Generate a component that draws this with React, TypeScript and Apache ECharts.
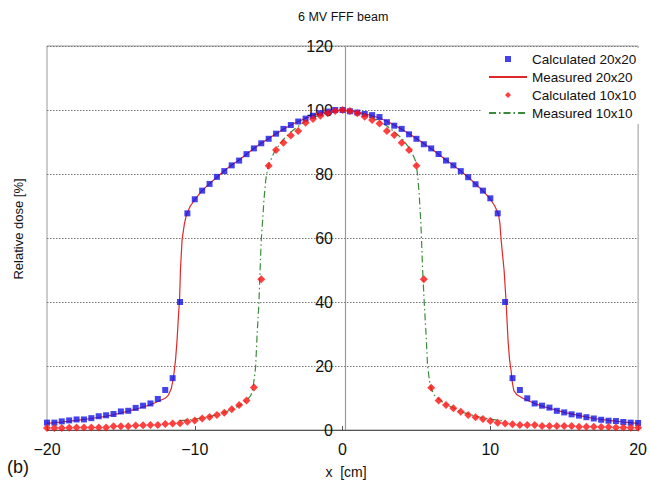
import React, { useEffect, useRef } from "react";
import * as echarts from "echarts";

const FONT = "'Liberation Sans', Arial, Helvetica, sans-serif";

const titleText = "6 MV FFF beam";
const xAxisTitle = "x  [cm]";
const yAxisTitle = "Relative dose [%]";
const panelLabel = "(b)";
const seriesNames = ["Calculated 20x20", "Measured 20x20", "Calculated 10x10", "Measured 10x10"];

// Calculated 20x20 (blue squares)
const calc20X = [
  -20, -19.5, -19, -18.5, -18, -17.5, -17, -16.5, -16, -15.5, -15, -14.5, -14, -13.5, -13, -12.5, -12, -11.5,
  -11, -10.5, -10, -9.5, -9, -8.5, -8, -7.5, -7, -6.5, -6, -5.5, -5, -4.5, -4, -3.5, -3, -2.5, -2, -1.5, -1, -0.5, 0,
  0.5, 1, 1.5, 2, 2.5, 3, 3.5, 4, 4.5, 5, 5.5, 6, 6.5, 7, 7.5, 8, 8.5, 9, 9.5, 10, 10.5, 11,
  11.5, 12, 12.5, 13, 13.5, 14, 14.5, 15, 15.5, 16, 16.5, 17, 17.5, 18, 18.5, 19, 19.5, 20,
];
const calc20Y = [
  2.3, 2.3, 2.7, 3.0, 3.3, 3.3, 3.7, 4.3, 4.6, 5.0, 5.8, 6.0, 6.9, 7.6, 8.3, 9.7, 12.5, 16.2,
  40, 67.7, 72.1, 74.8, 76.9, 79.1, 80.9, 82.7, 84.2, 86.2, 88.0, 89.6, 91.0, 92.6, 94.1, 95.3, 96.4, 97.3, 98.2, 99.0, 99.5, 100, 100,
  99.6, 99.2, 98.75, 98.4, 97.8, 96.2, 95.1, 94.1, 92.4, 91.0, 89.3, 88.0, 86.25, 84.2, 82.7, 80.9, 79.0, 76.8, 74.8, 72.4, 67.7, 40,
  16.2, 12.5, 9.9, 8.3, 7.6, 7.0, 6.0, 5.5, 4.9, 4.5, 4.0, 3.6, 3.2, 2.9, 2.8, 2.5, 2.3, 2.2,
];

// Calculated 10x10 (red diamonds)
const calc10X = [
  -20, -19.5, -19, -18.5, -18, -17.5, -17, -16.5, -16, -15.5, -15, -14.5, -14, -13.5, -13, -12.5, -12, -11.5,
  -11, -10.5, -10, -9.5, -9, -8.5, -8, -7.5, -7, -6.5, -6, -5.5, -5, -4.5, -4, -3.5, -3, -2.5, -2, -1.5, -1, -0.5, 0,
  0.5, 1, 1.5, 2, 2.5, 3, 3.5, 4, 4.5, 5, 5.5, 6, 6.5, 7, 7.5, 8, 8.5, 9, 9.5, 10, 10.5, 11,
  11.5, 12, 12.5, 13, 13.5, 14, 14.5, 15, 15.5, 16, 16.5, 17, 17.5, 18, 18.5, 19, 19.5, 20,
];
const calc10Y = [
  0.6, 0.6, 0.6, 0.7, 0.8, 0.8, 0.8, 0.8, 0.8, 1.2, 1.2, 1.2, 1.4, 1.5, 1.6, 1.6, 1.9, 2.0,
  2.1, 2.6, 3.0, 3.6, 4.1, 4.7, 5.4, 6.5, 7.8, 9.2, 13.3, 47.1, 82.6, 87.5, 89.8, 92.0, 93.4, 96.0, 97.2, 98.2, 99.0, 99.7, 100,
  99.7, 99.0, 97.9, 96.9, 95.8, 93.4, 92.2, 89.8, 87.5, 82.6, 47.1, 13.2, 9.2, 7.8, 6.8, 5.7, 4.7, 4.0, 3.4, 2.8, 2.3, 2.0,
  1.8, 1.6, 1.6, 1.6, 1.25, 1.25, 1.25, 1.25, 1.25, 1.0, 1.0, 1.0, 0.9, 0.9, 0.8, 0.8, 0.7, 0.7,
];

// Measured 20x20 (red solid line)
const meas20X = [
  -20, -19, -18, -17, -16, -15, -14, -13, -12.5, -12, -11.8, -11.6, -11.5, -11.4, -11.3, -11.2, -11.1, -11.03,
  -10.97, -10.86, -10.7, -10.55, -10.3, -10, -9.5, -9, -8.5, -8, -7.5, -7, -6.5, -6, -5.5, -5, -4.5, -4, -3.5,
  -3, -2.5, -2, -1.5, -1, -0.5, 0, 0.5, 1, 1.5, 2, 2.5, 3, 3.5, 4, 4.5, 5, 5.5, 6, 6.5, 7, 7.5, 8, 8.5, 9, 9.5,
  10, 10.3, 10.55, 10.65, 10.73, 10.93, 11.06, 11.2, 11.3, 11.4, 11.5, 11.6, 11.8, 12.2, 13, 13.6, 14, 15, 15.8,
  17, 18, 19, 20,
];
const meas20Y = [
  2.1, 2.5, 3.0, 3.6, 4.3, 5.3, 6.5, 7.9, 8.9, 9.9, 10.8, 12.8, 15.0, 18, 22, 28, 36, 40.6,
  50, 59.4, 64.5, 67.5, 70, 72, 74.8, 77, 79, 81, 82.8, 84.4, 86.2, 88, 89.6, 91.1, 92.6, 94, 95.3,
  96.4, 97.4, 98.3, 99, 99.5, 99.9, 100, 99.8, 99.4, 98.8, 98.2, 97.5, 96.5, 95.3, 94, 92.6, 91.1, 89.5, 87.9, 86.2, 84.4, 82.7, 80.9, 79, 76.9, 74.7,
  72.2, 70, 67.5, 64.5, 59.4, 50, 40.6, 28, 22, 18.75, 14.5, 12.2, 11, 9.9, 8.3, 7.3, 6.8, 5.5, 4.7,
  3.6, 3.0, 2.5, 2.1,
];

// Measured 10x10 (green dash-dot line)
const meas10X = [
  -11, -10.5, -10, -9.5, -9, -8.5, -8, -7.5, -7, -6.5, -6.2, -6.05, -5.95, -5.88, -5.78, -5.66, -5.58, -5.5,
  -5.4, -5.32, -5.2, -5.06, -4.8, -4.6, -4.3, -3.94, -3.5, -3.04, -2.5, -2.15, -1.5, -1.03, -0.5, 0,
  0.5, 1, 1.5, 2, 2.5, 3, 3.5, 4, 4.6, 4.95, 5.08, 5.19, 5.3, 5.42, 5.53, 5.65, 5.75, 5.86, 5.95, 6.2,
  6.87, 7.5, 8, 9.1, 10, 11,
];
const meas10Y = [
  2.9, 3.1, 3.4, 3.8, 4.2, 4.8, 5.5, 6.4, 7.6, 9.2, 10.8, 13.5, 17, 19.8, 30, 39.6, 50, 59.4,
  66, 71.9, 78, 82, 85, 87, 89, 91.1, 93.1, 94.8, 96.5, 97.4, 98.5, 99.1, 99.6, 100,
  99.6, 99.1, 98.5, 97.6, 96.5, 95, 93.2, 91.2, 87.6, 84, 79.7, 73.4, 64.6, 50, 39.6, 30, 20.3, 16.1, 13.5, 10.9,
  8.3, 6.9, 5.7, 4.2, 3.4, 2.8,
];

const xTicks = { min: -20, max: 20, interval: 10 };
const yTicks = { min: 0, max: 120, interval: 20 };

const zip = (xs: number[], ys: number[]) => xs.map((x, i) => [x, ys[i]]);
const fmtMinus = (v: number) => (v < 0 ? "\u2212" + Math.abs(v) : String(v));

const GRID = { left: 47, right: 7, top: 46, bottom: 55 };
const PLOT_W = 650 - GRID.left - GRID.right;

export default function App() {
  const ref = useRef<HTMLDivElement>(null);
  useEffect(() => {
    if (!ref.current) return;
    const chart = echarts.init(ref.current, null, { renderer: "svg" });
    chart.setOption({
      animation: false,
      backgroundColor: "#fff",
      textStyle: { fontFamily: FONT },
      title: {
        text: titleText,
        left: 298,
        top: 10,
        padding: 0,
        textStyle: { fontSize: 12.5, fontWeight: "normal", color: "#111", fontFamily: FONT },
      },
      grid: {
        ...GRID,
        show: true,
        borderColor: "#999",
        borderWidth: 1,
        backgroundColor: "transparent",
      },
      legend: {
        orient: "vertical",
        left: 482,
        top: 48,
        padding: [4, 8, 4, 6],
        backgroundColor: "#fff",
        itemWidth: 38,
        itemHeight: 6,
        itemGap: 4,
        symbolKeepAspect: true,
        textStyle: { fontSize: 13.5, color: "#111", lineHeight: 14, fontFamily: FONT },
        data: [
          { name: seriesNames[0], icon: "path://M0,0L1,0L1,1L0,1Z" },
          { name: seriesNames[1], itemStyle: { opacity: 0 } },
          { name: seriesNames[2], icon: "path://M0.5,0L1,0.5L0.5,1L0,0.5Z" },
          { name: seriesNames[3], itemStyle: { opacity: 0 } },
        ],
      },
      xAxis: {
        type: "value",
        min: xTicks.min,
        max: xTicks.max,
        interval: xTicks.interval,
        axisLine: { show: true, onZero: false, lineStyle: { color: "#555", width: 1 } },
        axisTick: { show: true, inside: true, length: 4, lineStyle: { color: "#555" } },
        axisLabel: { fontSize: 16, color: "#111", margin: 11, formatter: fmtMinus, fontFamily: FONT },
        splitLine: { show: false },
      },
      yAxis: {
        type: "value",
        min: yTicks.min,
        max: yTicks.max,
        interval: yTicks.interval,
        offset: -PLOT_W / 2,
        axisLine: { show: true, onZero: false, lineStyle: { color: "#999", width: 1.2 } },
        axisTick: { show: false },
        axisLabel: { fontSize: 16, color: "#111", margin: 12, fontFamily: FONT },
        splitLine: { show: true, lineStyle: { color: "#777", type: [1.5, 1.5], width: 1 } },
      },
      graphic: [
        {
          type: "text",
          x: 18,
          y: 229,
          rotation: Math.PI / 2,
          style: { text: yAxisTitle, fontSize: 13, fill: "#111", fontFamily: FONT, align: "center", verticalAlign: "middle" },
        },
        {
          type: "text",
          x: 346,
          y: 472,
          style: { text: xAxisTitle, fontSize: 14, fill: "#111", fontFamily: FONT, align: "center", verticalAlign: "middle" },
        },
        {
          type: "text",
          x: 7,
          y: 467,
          style: { text: panelLabel, fontSize: 18, fill: "#111", fontFamily: FONT, align: "left", verticalAlign: "middle" },
        },
      ],
      series: [
        {
          name: seriesNames[0],
          type: "scatter",
          symbol: "rect",
          symbolSize: 6,
          itemStyle: { color: "#1414e6" },
          data: zip(calc20X, calc20Y),
          z: 3,
        },
        {
          name: seriesNames[1],
          type: "line",
          symbol: "none",
          lineStyle: { color: "#e02828", width: 1.2 },
          itemStyle: { color: "#e02828" },
          data: zip(meas20X, meas20Y),
          z: 2,
        },
        {
          name: seriesNames[2],
          type: "scatter",
          symbol: "diamond",
          symbolSize: 8,
          itemStyle: { color: "#ff1010" },
          data: zip(calc10X, calc10Y),
          z: 4,
        },
        {
          name: seriesNames[3],
          type: "line",
          symbol: "none",
          lineStyle: { color: "#3d8a3d", width: 1.2, type: [7, 3, 1.5, 3] },
          itemStyle: { color: "#3d8a3d" },
          data: zip(meas10X, meas10Y),
          z: 2,
        },
      ],
    });
    return () => chart.dispose();
  }, []);
  return <div ref={ref} style={{ position: "fixed", left: 0, top: 0, width: 650, height: 485 }} />;
}
